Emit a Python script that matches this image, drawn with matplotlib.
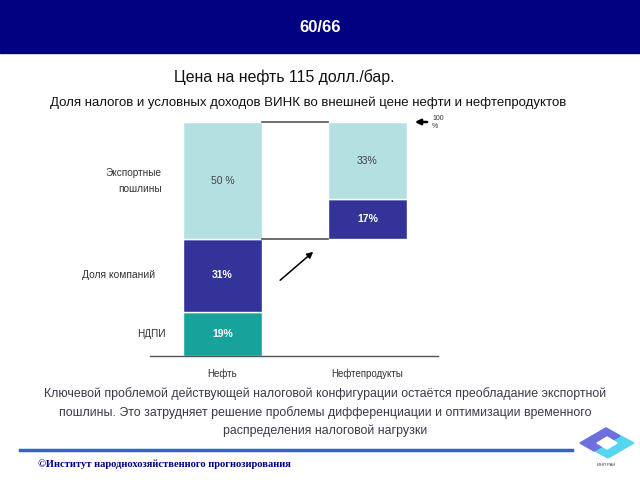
import matplotlib.pyplot as plt
from matplotlib.patches import Rectangle, Polygon

# Data (shares, %)
categories = ['Нефть', 'Нефтепродукты']
segment_names = ['НДПИ', 'Доля компаний', 'Экспортные\nпошлины']
oil_shares = [19, 31, 50]          # НДПИ, доля компаний, экспортные пошлины
products_shares = [17, 33]         # доля компаний, экспортные пошлины

c_ndpi = '#17a29c'
c_comp = '#33339a'
c_export = '#b5e0e2'

plt.rcParams['font.family'] = ['Liberation Sans', 'DejaVu Sans']

fig = plt.figure(figsize=(6.4, 4.8), dpi=100)


def fx(px):
    return px / 640


def fy(py):
    return 1 - py / 480


# header band
fig.patches.append(Rectangle((0, fy(53)), 1, 53 / 480, transform=fig.transFigure,
                             color='#000080', zorder=0))
fig.text(0.5, fy(28), '60/66', color='white', fontsize=12, fontweight='bold',
         ha='center', va='center')

fig.text(fx(284), fy(77), 'Цена на нефть 115 долл./бар.', fontsize=11.4,
         ha='center', va='center', color='#111111')
fig.text(fx(308), fy(103),
         'Доля налогов и условных доходов ВИНК во внешней цене нефти и нефтепродуктов',
         fontsize=9.5, ha='center', va='center', color='#111111')

# chart
ax = fig.add_axes([fx(150), fy(356), 288 / 640, 245.7 / 480])
x = [0, 1]
w = 79 / 145

# oil bar
bottom = 0
oil_colors = [c_ndpi, c_comp, c_export]
for val, col in zip(oil_shares, oil_colors):
    ax.bar(x[0], val, width=w, bottom=bottom, color=col, edgecolor='white', linewidth=1)
    bottom += val

# products bar floats above НДПИ + доля компаний
base = oil_shares[0] + oil_shares[1]
pb = base
for val, col in zip(products_shares, [c_comp, c_export]):
    ax.bar(x[1], val, width=w, bottom=pb, color=col, edgecolor='white', linewidth=1)
    pb += val

# value labels
mids = [oil_shares[0] / 2, oil_shares[0] + oil_shares[1] / 2,
        oil_shares[0] + oil_shares[1] + oil_shares[2] / 2]
ax.text(0, mids[0], f'{oil_shares[0]}%', color='white', fontweight='bold',
        fontsize=7.5, ha='center', va='center')
ax.text(0, mids[1], f'{oil_shares[1]}%', color='white', fontweight='bold',
        fontsize=7.5, ha='center', va='center')
ax.text(0, mids[2], f'{oil_shares[2]} %', color='#444444',
        fontsize=7.5, ha='center', va='center')
ax.text(1, base + products_shares[0] / 2, f'{products_shares[0]}%', color='white',
        fontweight='bold', fontsize=7.5, ha='center', va='center')
ax.text(1, base + products_shares[0] + products_shares[1] / 2, f'{products_shares[1]}%',
        color='#444444', fontsize=7.5, ha='center', va='center')

# segment names on the left
ax.text(-0.42, mids[2], segment_names[2], fontsize=7.2, ha='right', va='center',
        color='#333333', linespacing=1.75, multialignment='right')
ax.text(-0.465, mids[1], segment_names[1], fontsize=7.4, ha='right', va='center',
        color='#333333')
ax.text(-0.39, mids[0], segment_names[0], fontsize=7.2, ha='right', va='center',
        color='#333333')

# connectors
total = sum(oil_shares)
ax.plot([w / 2, 1 - w / 2], [total, total], color='#555555', lw=1.2)
ax.plot([w / 2, 1 - w / 2], [base, base], color='#555555', lw=1.2)

ax.annotate('', xy=(0.64, 45.3), xytext=(0.383, 31.6),
            arrowprops=dict(arrowstyle='-|>', color='black', lw=1.1, mutation_scale=9))
ax.annotate('', xy=(1.307, total), xytext=(1.43, total), annotation_clip=False,
            arrowprops=dict(arrowstyle='-|>', color='black', lw=1.8, mutation_scale=8))
ax.text(1.445, total, '100\n%', fontsize=5, ha='left', va='center', color='#333333',
        clip_on=False)

ax.set_xlim(-0.5, 1.486)
ax.set_ylim(0, 105)
ax.set_xticks(x)
ax.set_xticklabels(categories, fontsize=7, color='#333333')
ax.tick_params(axis='x', length=0, pad=9)
ax.set_yticks([])
for s in ['top', 'right', 'left']:
    ax.spines[s].set_visible(False)
ax.spines['bottom'].set_color('#555555')
ax.spines['bottom'].set_linewidth(1)
ax.patch.set_alpha(0)

# conclusion text
note = ('Ключевой проблемой действующей налоговой конфигурации остаётся преобладание экспортной\n'
        'пошлины. Это затрудняет решение проблемы дифференциации и оптимизации временного\n'
        'распределения налоговой нагрузки')
fig.text(fx(325), fy(412), note, fontsize=8.9, ha='center', va='center',
         color='#3a3a4a', linespacing=1.55)

# footer
fig.add_artist(plt.Line2D([fx(20), fx(572)], [fy(450), fy(450)], color='#3a5fcd', lw=2.5))
fig.text(fx(38), fy(464), '©Институт народнохозяйственного прогнозирования',
         fontsize=7.6, fontweight='bold', color='#000080',
         family=['Liberation Serif', 'DejaVu Serif'], ha='left', va='center')

# logo
pts = lambda p: [(fx(a), fy(b)) for a, b in p]
fig.patches.append(Polygon(pts([(580, 443), (606, 428), (634, 443), (608, 458)]),
                           closed=True, transform=fig.transFigure, color='#55d6ee'))
fig.patches.append(Polygon(pts([(580, 443), (606, 428), (620, 436), (594, 451)]),
                           closed=True, transform=fig.transFigure, color='#6f6fe0'))
fig.patches.append(Polygon(pts([(597, 443), (607, 437), (617, 443), (607, 449)]),
                           closed=True, transform=fig.transFigure, color='white'))
fig.text(fx(606), fy(465), 'ИНП РАН', fontsize=3, ha='center', va='center', color='#333333')

fig.savefig('out.png', dpi=100)
